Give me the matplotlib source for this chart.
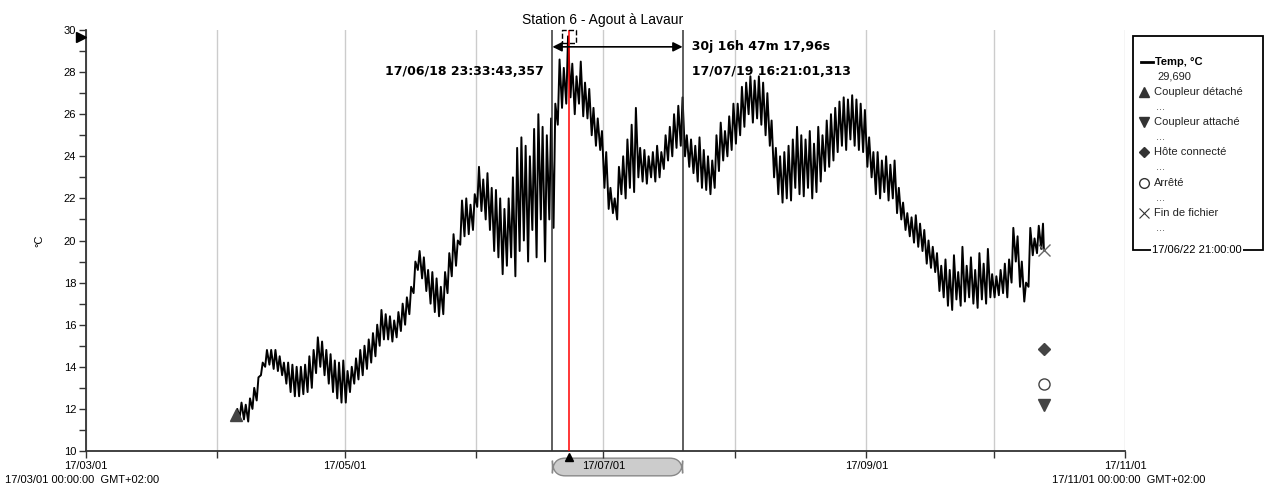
import datetime as dt
import matplotlib
matplotlib.use('Agg')
import matplotlib.pyplot as plt
import matplotlib.dates as mdates
import matplotlib.transforms as mtransforms
from matplotlib.patches import Rectangle, FancyBboxPatch
from matplotlib.lines import Line2D

plt.rcParams['font.family'] = ['Liberation Sans', 'DejaVu Sans']

# daily low / high temperature (deg C), from 2017-04-05
first_day = dt.datetime(2017, 4, 5)
lo_apr = [11.5, 11.6, 11.5, 11.4, 12.0, 12.4, 13.6, 14.0, 14.1, 13.9, 13.8, 13.6, 13.2,
          12.8, 12.6, 12.6, 12.7, 12.8, 13.0, 13.7, 14.0, 13.6, 13.2, 12.8, 12.5, 12.3]
hi_apr = [12.0, 12.3, 12.2, 12.5, 13.0, 13.5, 14.2, 14.8, 14.8, 14.8, 14.5, 14.2, 14.2,
          14.1, 14.0, 14.0, 14.1, 14.5, 14.8, 15.4, 15.2, 14.8, 14.6, 14.3, 14.2, 14.3]
lo_may = [12.3, 12.8, 13.2, 13.4, 13.6, 13.9, 14.2, 14.5, 15.0, 15.3, 15.3, 15.2, 15.4,
          15.7, 16.0, 16.5, 17.5, 18.6, 18.2, 17.6, 17.0, 16.6, 16.4, 16.5, 17.5, 18.3,
          18.8, 19.8, 20.2, 20.3, 20.5]
hi_may = [13.8, 14.0, 14.4, 14.8, 15.0, 15.3, 15.6, 16.0, 16.7, 16.5, 16.4, 16.2, 16.6,
          17.0, 17.3, 17.8, 19.0, 19.5, 19.2, 18.6, 18.5, 18.2, 17.8, 18.5, 19.4, 20.3,
          20.0, 21.9, 22.0, 21.7, 22.2]
lo_jun = [21.6, 21.4, 21.0, 20.5, 19.5, 19.2, 18.4, 18.8, 19.2, 18.3, 19.5, 20.0, 19.0,
          20.5, 19.2, 21.0, 19.0, 21.0, 20.6, 25.5, 26.3, 26.5, 26.8, 26.0, 26.5, 25.9,
          25.8, 25.0, 24.5, 24.3]
hi_jun = [23.5, 22.9, 23.2, 22.5, 22.4, 22.0, 21.5, 22.0, 23.0, 24.4, 24.9, 24.5, 24.0,
          25.3, 26.0, 25.4, 25.0, 25.8, 26.5, 28.6, 28.2, 29.7, 28.4, 27.8, 28.5, 27.5,
          27.2, 26.3, 25.8, 25.2]
lo_jul = [22.5, 21.5, 21.3, 21.0, 22.2, 22.0, 22.5, 22.3, 23.0, 22.8, 22.7, 23.0, 22.8,
          23.0, 23.4, 23.8, 24.0, 24.4, 24.5, 24.0, 23.5, 23.2, 22.8, 22.5, 22.4, 22.2,
          22.5, 23.3, 23.8, 24.0, 24.3]
hi_jul = [24.2, 22.5, 22.0, 23.5, 24.0, 24.8, 25.5, 26.3, 24.4, 24.3, 24.0, 24.2, 24.5,
          24.2, 25.0, 25.4, 26.0, 26.4, 26.8, 25.0, 24.8, 24.5, 24.9, 24.3, 24.0, 23.8,
          25.0, 25.6, 25.2, 25.9, 26.5]
lo_aug = [24.6, 25.0, 25.4, 26.0, 25.6, 25.8, 25.5, 25.0, 24.5, 23.0, 22.2, 21.8, 22.0,
          21.9, 22.5, 22.2, 22.1, 22.5, 22.0, 22.3, 22.8, 23.3, 23.5, 23.8, 24.2, 24.5,
          24.3, 24.8, 24.5, 24.3, 24.2]
hi_aug = [26.5, 27.3, 27.5, 27.8, 27.6, 27.8, 27.5, 27.0, 25.7, 24.4, 24.0, 24.2, 24.5,
          24.8, 25.4, 25.0, 24.8, 25.2, 24.6, 25.4, 25.0, 25.7, 26.0, 26.3, 26.6, 26.8,
          26.7, 26.9, 26.7, 26.5, 26.2]
lo_sep = [23.5, 23.0, 22.2, 22.0, 22.3, 21.9, 22.0, 21.3, 21.0, 20.5, 20.2, 19.9, 19.7,
          19.5, 18.9, 18.7, 18.5, 17.6, 17.3, 16.9, 16.7, 17.2, 16.9, 17.1, 17.3, 17.0,
          16.8, 17.2, 17.0, 17.3]
hi_sep = [24.9, 24.2, 24.2, 23.8, 24.0, 23.6, 23.8, 22.5, 21.8, 21.3, 21.1, 21.2, 20.8,
          20.5, 20.0, 19.7, 19.4, 18.8, 19.1, 18.6, 19.3, 18.5, 19.7, 18.8, 19.2, 18.6,
          19.4, 18.9, 19.6, 18.4]
lo_oct = [17.3, 17.4, 17.5, 17.3, 18.0, 19.0, 17.8, 17.1, 17.8, 19.3, 19.4, 19.6]
hi_oct = [18.3, 18.6, 18.9, 19.1, 20.6, 20.2, 19.0, 18.0, 20.6, 20.1, 20.7, 20.8]

daily_lo = lo_apr + lo_may + lo_jun + lo_jul + lo_aug + lo_sep + lo_oct
daily_hi = hi_apr + hi_may + hi_jun + hi_jul + hi_aug + hi_sep + hi_oct

end_time = dt.datetime(2017, 10, 12, 21, 0)
end_value = 19.55

# logger events
ev_detached = (dt.datetime(2017, 4, 5, 10), 11.7)
ev_attached = (end_time, 12.2)
ev_host = (end_time, 14.85)
ev_stopped = (end_time, 13.2)

cursor_a = dt.datetime(2017, 6, 18, 23, 33, 43)
cursor_b = dt.datetime(2017, 7, 19, 16, 21, 1)
cursor_red = dt.datetime(2017, 6, 22, 21, 0, 0)
red_value = 29.69

times, temps = [], []
for i, (lo, hi) in enumerate(zip(daily_lo, daily_hi)):
    day = first_day + dt.timedelta(days=i)
    times += [day + dt.timedelta(hours=6), day + dt.timedelta(hours=16)]
    temps += [lo, hi]
times.append(end_time)
temps.append(end_value)

W, H = 1266, 488
fig = plt.figure(figsize=(W / 100, H / 100), dpi=100)
ax = fig.add_axes([86 / W, 1 - 451 / H, (1125 - 86) / W, (451 - 30) / H])

def fx(px):
    return px / W

def fy(py):
    return 1 - py / H

ax.plot(times, temps, color='black', lw=1.4, zorder=3)

ax.set_xlim(dt.datetime(2017, 3, 1), dt.datetime(2017, 11, 1))
ax.set_ylim(10, 30)
ax.xaxis.set_major_locator(mdates.MonthLocator(bymonth=[1, 3, 5, 7, 9, 11]))
ax.xaxis.set_minor_locator(mdates.MonthLocator())
ax.xaxis.set_major_formatter(mdates.DateFormatter('%y/%m/%d'))
ax.set_yticks(range(10, 31, 2))
ax.set_yticks(range(11, 30, 2), minor=True)
ax.grid(True, axis='x', which='both', color='#cccccc', lw=1, zorder=0)
for s in ['top', 'right']:
    ax.spines[s].set_visible(False)
for s in ['left', 'bottom']:
    ax.spines[s].set_color('#333333')
    ax.spines[s].set_linewidth(1.3)
ax.tick_params(which='both', length=5, width=1, color='#333333', labelsize=8, pad=2)
ax.set_ylabel('°C', fontsize=8, labelpad=14)

# cursors
arrow_y = 29.2
label_y = 28.05
ax.axvline(cursor_a, color='#333333', lw=1.1, zorder=4)
ax.axvline(cursor_b, color='#333333', lw=1.1, zorder=4)
ax.axvline(cursor_red, color='red', lw=1.1, zorder=5)
ax.annotate('', xy=(cursor_a, arrow_y), xytext=(cursor_b, arrow_y),
            arrowprops=dict(arrowstyle='<|-|>', color='black', lw=1.2,
                            mutation_scale=14, shrinkA=0, shrinkB=0), zorder=6)
ax.scatter([cursor_red], [red_value], marker='s', s=90, facecolors='none',
           edgecolors='black', linestyles='--', lw=1, zorder=7, clip_on=False)
ax.text(cursor_b, arrow_y, '  30j 16h 47m 17,96s', fontsize=9, fontweight='bold',
        family='DejaVu Sans', ha='left', va='center')
ax.text(cursor_a, label_y, '17/06/18 23:33:43,357  ', fontsize=9, fontweight='bold',
        family='DejaVu Sans', ha='right', va='center')
ax.text(cursor_b, label_y, '  17/07/19 16:21:01,313', fontsize=9, fontweight='bold',
        family='DejaVu Sans', ha='left', va='center')

# value marker on y axis
yax = mtransforms.blended_transform_factory(ax.transAxes, ax.transData)
ax.plot([-0.005], [red_value], marker='>', color='black', ms=7, transform=yax,
        clip_on=False, zorder=8)

# cursor span box under x axis
xax = mtransforms.blended_transform_factory(ax.transData, ax.transAxes)
a_num, b_num = mdates.date2num(cursor_a), mdates.date2num(cursor_b)
box = FancyBboxPatch((a_num, -0.059), b_num - a_num, 0.042,
                     boxstyle='round,pad=0,rounding_size=3', transform=xax,
                     facecolor='#cccccc', edgecolor='#888888', lw=1, clip_on=False,
                     zorder=1, mutation_aspect=0.012)
ax.add_patch(box)
ax.plot([cursor_red], [-0.014], marker='^', color='black', ms=6, transform=xax,
        clip_on=False, zorder=8)

# event markers
ax.plot(*ev_detached, marker='^', color='#444444', ms=9, zorder=6, clip_on=False)
ax.plot(*ev_attached, marker='v', color='#444444', ms=9, zorder=6)
ax.plot(*ev_host, marker='D', color='#444444', ms=6.5, zorder=6)
ax.plot(*ev_stopped, marker='o', mfc='white', mec='#444444', ms=8, zorder=6)
ax.plot(end_time, end_value, marker='x', color='#666666', ms=9, mew=1, zorder=6)

# titles and extra date labels
fig.text(fx(603), fy(20), 'Station 6 - Agout à Lavaur', fontsize=10, ha='center',
         va='center')
fig.text(fx(5), fy(480), '17/03/01 00:00:00  GMT+02:00', fontsize=8, ha='left',
         va='center')
fig.text(fx(1205), fy(480), '17/11/01 00:00:00  GMT+02:00', fontsize=8, ha='right',
         va='center')

# legend panel
fig.add_artist(Rectangle((fx(1133), fy(250)), fx(1263) - fx(1133), fy(36) - fy(250),
                         transform=fig.transFigure, fill=False, edgecolor='black',
                         lw=1.3))
fig.add_artist(Line2D([fx(1141), fx(1153)], [fy(62), fy(62)], color='black', lw=2,
                      transform=fig.transFigure))
fig.text(fx(1155), fy(62), 'Temp, °C', fontsize=8, fontweight='bold', va='center')
fig.text(fx(1157), fy(76), '29,690', fontsize=8, va='center', color='#222222')
legend_rows = [('^', 'Coupleur détaché', 92), ('v', 'Coupleur attaché', 122),
               ('D', 'Hôte connecté', 152), ('o', 'Arrêté', 183),
               ('x', 'Fin de fichier', 213)]
for mk, label, py in legend_rows:
    if mk == 'o':
        kw = dict(mfc='white', mec='#333333', ms=7)
    elif mk == 'x':
        kw = dict(color='#333333', ms=7, mew=0.8)
    elif mk == 'D':
        kw = dict(color='#333333', ms=5)
    else:
        kw = dict(color='#333333', ms=7)
    fig.add_artist(Line2D([fx(1144)], [fy(py)], marker=mk, lw=0,
                          transform=fig.transFigure, **kw))
    fig.text(fx(1154), fy(py), label, fontsize=8, va='center', color='#222222')
    fig.text(fx(1156), fy(py + 15), '...', fontsize=8, va='center', color='#555555')
fig.text(fx(1197), fy(250), '17/06/22 21:00:00', fontsize=8, ha='center',
         va='center', bbox=dict(facecolor='white', edgecolor='none', pad=1))

fig.savefig('out.png', dpi=100)
